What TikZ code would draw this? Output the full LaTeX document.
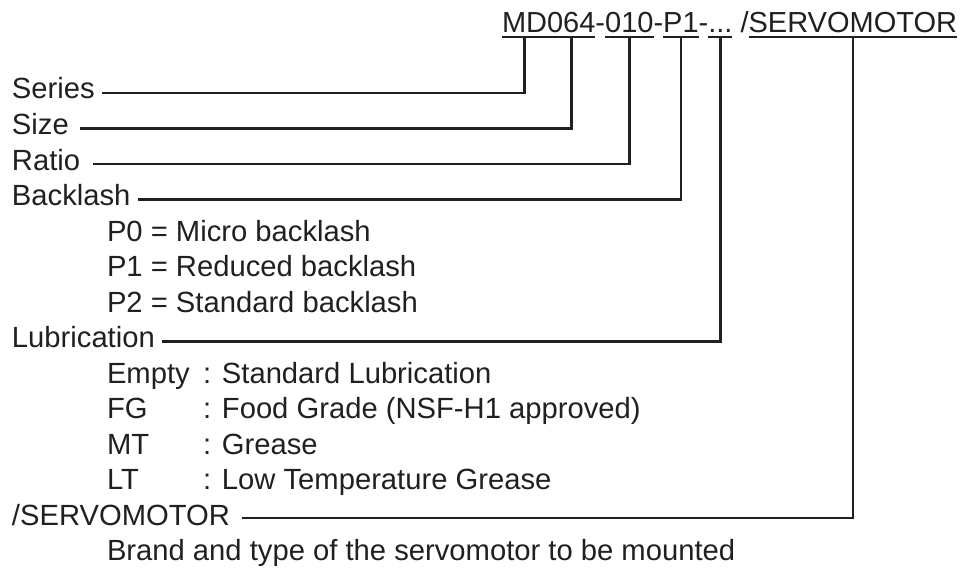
\documentclass[tikz,border=0pt]{standalone}
\usepackage{fontspec}
\setmainfont{Liberation Sans}
\usetikzlibrary{calc}
\definecolor{ink}{HTML}{231F20}
\begin{document}
\begin{tikzpicture}[x=1pt,y=-1pt,
  txt/.style={inner sep=0pt, outer sep=0pt, anchor=base west, text=ink, font=\fontsize{29.2}{34}\selectfont},
  ttl/.style={txt, font=\fontsize{29}{34}\selectfont},
  ln/.style={draw=ink, line width=2.4pt},
  ul/.style={draw=ink, line width=2.2pt}]
\useasboundingbox (0,0) rectangle (968,567);
% title code
\node[ttl] (tMD) at (502,33) {MD};
\node[ttl] (t064) at (tMD.base east) {064};
\node[ttl] (d1) at (t064.base east) {-};
\node[ttl] (t010) at (d1.base east) {010};
\node[ttl] (d2) at (t010.base east) {-};
\node[ttl] (tP1) at (d2.base east) {P1};
\node[ttl] (d3) at (tP1.base east) {-};
\node[ttl] (tdots) at (d3.base east) {...};
\node[ttl] (tsl) at (tdots.base east) {\ /};
\node[ttl] (tSM) at (tsl.base east) {SERVOMOTOR};
\foreach \s in {tMD,t064,t010,tP1,tdots,tSM}{
  \draw[ul] ($(\s.base west)+(0,4)$) -- ($(\s.base east)+(0,4)$);
  \coordinate (u\s) at ($(\s.base)+(0,4)$);
}
% labels
\node[txt] (series) at (12,99) {Series};
\node[txt] (size) at (12,134.5) {Size};
\node[txt] (ratio) at (12,170) {Ratio};
\node[txt] (backlash) at (12,205.5) {Backlash};
\node[txt] (p0) at (107,241) {P0 = Micro backlash};
\node[txt] (p1) at (107,276.5) {P1 = Reduced backlash};
\node[txt] (p2) at (107,312) {P2 = Standard backlash};
\node[txt] (lub) at (12,347.5) {Lubrication};
\node[txt] (kEmpty) at (107,383) {Empty};
\node[txt] (vEmpty) at (203,383) {: Standard Lubrication};
\node[txt] (kFG) at (107,418.5) {FG};
\node[txt] (vFG) at (203,418.5) {: Food Grade (NSF-H1 approved)};
\node[txt] (kMT) at (107,454) {MT};
\node[txt] (vMT) at (203,454) {: Grease};
\node[txt] (kLT) at (107,489.5) {LT};
\node[txt] (vLT) at (203,489.5) {: Low Temperature Grease};
\node[txt] (servo) at (12,525) {/SERVOMOTOR};
\node[txt] (brand) at (107,560.5) {Brand and type of the servomotor to be mounted};
% connectors
\coordinate (cseries) at ($(series.base east)+(7,-6)$);
\coordinate (csize) at ($(size.base east)+(11,-6)$);
\coordinate (cratio) at ($(ratio.base east)+(13,-6)$);
\coordinate (cback) at ($(backlash.base east)+(8,-6)$);
\coordinate (club) at ($(lub.base east)+(7,-6)$);
\coordinate (cservo) at ($(servo.base east)+(12,-7)$);
\draw[ln] (cseries) -| (utMD);
\draw[ln] (csize) -| (ut064);
\draw[ln] (cratio) -| (ut010);
\draw[ln] (cback) -| (utP1);
\draw[ln] (club) -| (utdots);
\draw[ln] (cservo) -| (utSM);
\end{tikzpicture}
\end{document}
